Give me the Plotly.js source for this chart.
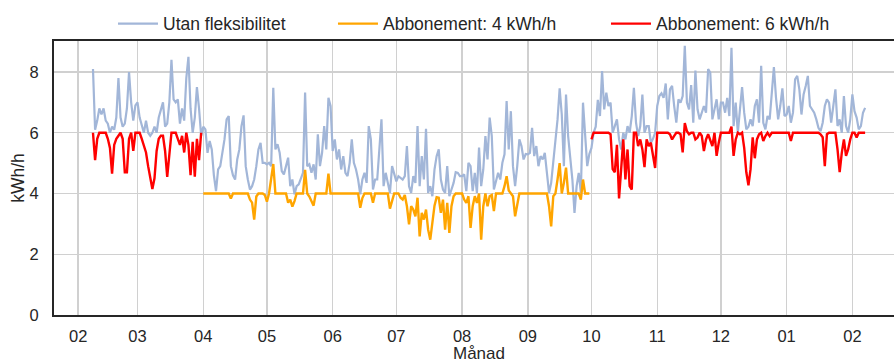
<!DOCTYPE html>
<html><head><meta charset="utf-8">
<script src="https://cdn.plot.ly/plotly-3.0.1.min.js"></script>
<style>html,body{margin:0;padding:0;overflow:hidden;background:#fff}#chart{width:910px;height:363px}</style>
</head><body><div id="chart"></div>
<script>
// ---- Daily values (kWh/h) ----
// Utan fleksibilitet
const uFeb = [8.1, 6.1, 6.4, 6.8, 6.6, 6.8, 6.4, 6.3, 6.0, 6.2, 6.1, 6.5, 7.8, 6.5, 6.2, 6.3, 6.8, 8.0, 7.0, 6.4, 6.9]; // from Feb 8
const uMar = [7.0, 6.5, 6.2, 6.0, 6.4, 6.0, 5.9, 6.0, 6.2, 6.0, 6.5, 6.8, 7.0, 6.2, 6.3, 7.0, 8.4, 7.1, 7.0, 7.1, 6.3, 6.8, 6.4, 7.8, 8.5, 6.8, 6.0, 6.5, 7.5, 6.8, 5.9];
const uApr = [6.2, 6.11, 5.34, 5.73, 5.45, 4.6, 4.08, 4.79, 4.9, 5.3, 5.78, 6.44, 6.55, 4.9, 4.6, 4.46, 5.12, 5.45, 6.22, 6.57, 4.9, 4.46, 4.13, 4.24, 4.46, 4.9, 5.45, 5.67, 5.01, 5.01];
const uMay = [4.96, 5.01, 4.9, 7.48, 5.45, 5.62, 5.34, 4.74, 4.63, 4.9, 5.18, 4.24, 4.46, 3.97, 4.24, 4.3, 4.5, 4.68, 7.32, 4.9, 4.96, 4.68, 4.96, 4.46, 5.95, 4.9, 5.34, 6.22, 5.45, 7.15, 6.88];
const uJun = [5.4, 5.78, 5.12, 5.45, 4.79, 5.23, 4.68, 4.57, 5.0, 5.78, 5.01, 4.79, 4.46, 3.97, 4.46, 4.68, 4.35, 6.22, 5.78, 4.13, 4.46, 4.46, 5.56, 6.44, 4.24, 4.68, 4.35, 4.02, 4.9, 4.68];
const uJul = [4.4, 4.57, 4.5, 4.46, 4.57, 5.56, 4.24, 4.02, 4.57, 4.35, 6.22, 4.24, 5.23, 4.46, 6.13, 4.02, 4.24, 3.91, 4.79, 5.23, 5.45, 4.46, 4.13, 4.02, 4.9, 3.91, 4.13, 4.35, 4.7, 4.68, 4.57];
const uAug = [4.57, 4.63, 4.08, 5.01, 4.9, 4.08, 4.68, 4.02, 5.51, 4.24, 4.79, 5.89, 5.12, 6.5, 5.89, 4.13, 4.46, 4.68, 4.46, 5.01, 5.29, 7.04, 5.45, 6.71, 4.9, 4.24, 4.9, 5.78, 5.56, 5.12, 5.3];
const uSep = [5.29, 5.34, 6.16, 5.23, 5.56, 4.9, 5.23, 5.12, 5.34, 4.68, 4.02, 4.35, 5.0, 5.78, 6.43, 7.46, 6.6, 4.9, 7.26, 5.89, 5.12, 4.46, 3.36, 4.24, 4.68, 4.02, 6.99, 5.78, 4.9, 5.3];
const uOct = [5.5, 6.0, 6.2, 7.08, 6.55, 8.03, 6.77, 7.32, 6.88, 6.99, 6.0, 6.22, 6.44, 5.78, 5.45, 6.0, 5.78, 6.22, 6.0, 6.55, 7.48, 6.33, 5.89, 6.22, 7.26, 6.0, 6.22, 6.22, 5.67, 5.8, 6.0];
const uNov = [6.88, 7.21, 7.3, 7.15, 7.62, 6.44, 7.43, 7.54, 6.88, 6.33, 7.1, 6.99, 7.21, 8.86, 6.99, 6.77, 7.57, 6.33, 8.05, 6.77, 6.44, 6.66, 6.88, 6.66, 8.1, 7.98, 6.44, 6.77, 7.1, 6.44];
const uDec = [6.99, 6.99, 6.66, 7.15, 6.55, 8.8, 6.22, 6.99, 6.0, 6.77, 7.5, 6.66, 6.11, 6.2, 6.44, 6.22, 6.88, 7.1, 6.33, 8.2, 6.33, 6.11, 6.55, 6.44, 7.32, 8.16, 7.15, 6.44, 6.88, 7.46, 6.55];
const uJan = [6.6, 6.88, 6.33, 6.66, 7.76, 7.87, 7.43, 6.6, 7.26, 7.54, 7.87, 6.88, 6.77, 6.66, 6.44, 6.16, 6.05, 6.33, 6.88, 7.1, 6.99, 6.33, 6.88, 7.43, 6.22, 6.44, 6.0, 7.21, 6.22, 6.0, 6.44];
const uFeb2 = [7.26, 6.71, 6.5, 6.11, 6.22, 6.66, 6.82];

// Abbonement: 6 kWh/h (Feb-Mar, Oct-Feb)
const f6Feb = [6.0, 5.1, 5.8, 6.0, 6.0, 6.0, 6.0, 5.8, 5.5, 4.65, 5.6, 5.8, 5.9, 6.0, 5.8, 4.7, 4.7, 5.8, 6.0, 5.4, 6.0];
const f6Mar = [6.0, 6.0, 5.8, 5.6, 5.35, 4.9, 4.45, 4.15, 4.5, 5.4, 5.8, 5.9, 5.9, 5.4, 4.55, 5.4, 6.0, 6.0, 6.0, 5.8, 5.6, 5.9, 5.35, 6.0, 5.6, 4.6, 5.7, 4.55, 5.8, 5.1, 6.0];
const f6Oct = [5.78, 6.0, 6.0, 6.0, 6.0, 6.0, 6.0, 6.0, 6.0, 5.95, 4.8, 4.7, 5.6, 3.84, 4.68, 5.78, 4.46, 5.45, 4.24, 4.13, 6.0, 6.0, 5.56, 5.78, 5.45, 4.87, 5.78, 5.56, 5.67, 5.23, 4.84];
const f6Nov = [6.0, 6.0, 6.0, 6.0, 6.0, 6.0, 5.95, 5.78, 5.9, 6.0, 6.0, 5.95, 5.35, 6.32, 6.05, 5.95, 6.0, 6.0, 5.78, 5.84, 6.0, 5.9, 5.4, 5.78, 5.95, 5.78, 5.56, 6.0, 5.24, 5.67];
const f6Dec = [6.0, 6.0, 6.0, 6.0, 6.0, 6.2, 5.24, 5.78, 6.0, 5.95, 6.0, 5.5, 4.7, 4.27, 4.8, 5.85, 5.16, 5.78, 5.95, 6.0, 5.73, 5.89, 6.0, 5.89, 6.0, 6.0, 6.0, 6.0, 6.0, 6.0, 6.0];
const f6Jan = [6.0, 6.0, 5.73, 6.0, 6.0, 6.0, 6.0, 6.0, 6.0, 6.0, 6.0, 6.0, 6.0, 6.0, 6.0, 6.0, 5.95, 5.85, 4.9, 5.95, 6.0, 6.0, 6.0, 6.0, 5.45, 4.7, 5.34, 5.78, 5.24, 5.45, 5.78];
const f6Feb2 = [6.0, 6.0, 5.84, 6.0, 6.0, 6.0, 6.0];

// Abbonement: 4 kWh/h (Apr-Sep)
const f4Apr = [4, 4, 4, 4, 4, 4, 4, 4, 4, 4, 4, 4, 4, 3.83, 4, 4, 4, 4, 4, 4, 4, 4, 3.8, 3.7, 3.14, 3.9, 4, 4, 4, 3.95];
const f4May = [3.73, 4.0, 4.48, 4.97, 4.0, 4, 4, 4, 4, 4, 3.7, 3.8, 3.57, 3.75, 4.0, 4.0, 4.0, 4.0, 4.78, 4.0, 3.9, 3.75, 3.6, 4.0, 4, 4, 4, 4, 4, 4.65, 4.0];
const f4Jun = [4, 4, 4, 4, 4, 4, 4, 4, 4, 4, 4, 4, 4, 3.53, 3.85, 4, 4, 4, 4, 3.7, 4, 4, 4, 4, 4, 4, 4, 3.5, 3.8, 4];
const f4Jul = [4.0, 4.0, 3.86, 3.8, 3.95, 3.58, 2.98, 3.58, 3.47, 3.25, 3.86, 2.59, 3.36, 3.14, 3.47, 2.81, 2.48, 3.14, 3.6, 3.88, 3.86, 3.36, 3.8, 2.81, 3.69, 2.7, 3.58, 3.91, 4.0, 4.0, 4.0];
const f4Aug = [4.0, 3.8, 3.69, 3.91, 2.87, 3.58, 3.91, 3.69, 4.0, 2.48, 3.58, 4.0, 3.58, 3.91, 3.95, 3.42, 4.0, 4.0, 4.0, 4.0, 4.24, 4.57, 4.1, 4.0, 3.91, 3.25, 3.69, 4.0, 4.0, 4.0, 4.0];
const f4Sep = [4, 4, 4, 4, 4, 4, 4, 4, 4, 4, 3.58, 2.92, 3.91, 4, 4.46, 5.0, 4.0, 4.35, 4.85, 4, 4, 4, 4, 4, 4, 3.8, 4.46, 4, 4, 4];

const yTicks = [0, 2, 4, 6, 8];
const names = ['Utan fleksibilitet', 'Abbonement: 4 kWh/h', 'Abbonement: 6 kWh/h'];

// consecutive daily dates
function days(y, m, d0, n) {
  const out = [];
  for (let i = 0; i < n; i++) {
    out.push(new Date(Date.UTC(y, m - 1, d0 + i)).toISOString().slice(0, 10));
  }
  return out;
}
const xFeb = days(2022, 2, 8, uFeb.length), xMar = days(2022, 3, 1, uMar.length),
      xApr = days(2022, 4, 1, uApr.length), xMay = days(2022, 5, 1, uMay.length),
      xJun = days(2022, 6, 1, uJun.length), xJul = days(2022, 7, 1, uJul.length),
      xAug = days(2022, 8, 1, uAug.length), xSep = days(2022, 9, 1, uSep.length),
      xOct = days(2022, 10, 1, uOct.length), xNov = days(2022, 11, 1, uNov.length),
      xDec = days(2022, 12, 1, uDec.length), xJan = days(2023, 1, 1, uJan.length),
      xFeb2 = days(2023, 2, 1, uFeb2.length);

const font = 'Liberation Sans, Arial, Helvetica, sans-serif';
const txt = '#262626';

const traces = [
  {
    x: [].concat(xFeb, xMar, xApr, xMay, xJun, xJul, xAug, xSep, xOct, xNov, xDec, xJan, xFeb2),
    y: [].concat(uFeb, uMar, uApr, uMay, uJun, uJul, uAug, uSep, uOct, uNov, uDec, uJan, uFeb2),
    type: 'scatter', mode: 'lines', name: names[0], legend: 'legend',
    line: {color: '#a2b6d8', width: 2.2}
  },
  {
    x: [].concat(xApr, xMay, xJun, xJul, xAug, xSep),
    y: [].concat(f4Apr, f4May, f4Jun, f4Jul, f4Aug, f4Sep),
    type: 'scatter', mode: 'lines', name: names[1], legend: 'legend2',
    line: {color: '#ffa500', width: 2.4}
  },
  {
    x: [].concat(xFeb, xMar, ['2022-06-15'], xOct, xNov, xDec, xJan, xFeb2),
    y: [].concat(f6Feb, f6Mar, [null], f6Oct, f6Nov, f6Dec, f6Jan, f6Feb2),
    type: 'scatter', mode: 'lines', name: names[2], legend: 'legend3',
    line: {color: '#ff0000', width: 2.4}, connectgaps: false
  }
];

const legBase = {orientation: 'h', yanchor: 'middle', y: 1.063, xanchor: 'left',
  bgcolor: 'rgba(0,0,0,0)', borderwidth: 0, itemwidth: 40,
  font: {family: font, size: 17.5, color: txt}};

const layout = {
  width: 910, height: 363,
  margin: {l: 54, r: 6, t: 39, b: 48},
  paper_bgcolor: '#ffffff', plot_bgcolor: '#ffffff',
  font: {family: font, color: txt},
  showlegend: true,
  legend: Object.assign({}, legBase, {x: 0.0694}),
  legend2: Object.assign({}, legBase, {x: 0.3282}),
  legend3: Object.assign({}, legBase, {x: 0.6494}),
  xaxis: {
    type: 'date',
    range: ['2022-01-20 15:00', '2023-02-25 08:00'],
    tickmode: 'linear', tick0: '2022-02-01', dtick: 'M1', tickformat: '%m',
    showgrid: true, gridcolor: '#d0d0d0', gridwidth: 1.4,
    showline: true, linecolor: txt, linewidth: 2, mirror: true, zeroline: false,
    ticks: 'outside', ticklen: 5, tickcolor: 'rgba(0,0,0,0)',
    tickfont: {family: font, size: 16.5, color: txt},
    title: {text: 'Månad', standoff: 15, font: {family: font, size: 17, color: txt}}
  },
  yaxis: {
    range: [0, 9.02], tickmode: 'array', tickvals: yTicks, ticktext: yTicks.map(String),
    showgrid: true, gridcolor: '#d0d0d0', gridwidth: 1.4,
    showline: true, linecolor: txt, linewidth: 2, zeroline: false,
    ticks: 'outside', ticklen: 10, tickcolor: 'rgba(0,0,0,0)',
    tickfont: {family: font, size: 16.5, color: txt},
    title: {text: 'kWh/h', standoff: 0, font: {family: font, size: 17.5, color: txt}}
  }
};

Plotly.newPlot('chart', traces, layout, {displayModeBar: false, staticPlot: true});
</script></body></html>
